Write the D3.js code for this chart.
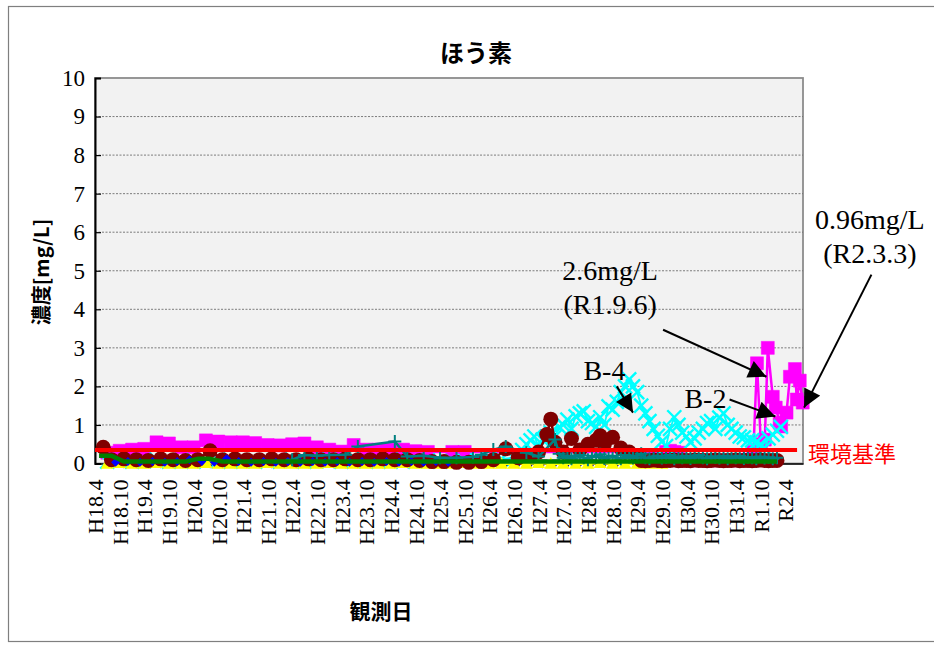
<!DOCTYPE html>
<html><head><meta charset="utf-8">
<script src="https://cdn.jsdelivr.net/npm/d3@7"></script>
<style>body{margin:0;background:#fff;}svg{display:block;}</style>
</head><body>
<svg id="chart" width="934" height="645"></svg>
<script>
// ---------------- DATA ----------------
const titleText = "ほう素";
const yLabelText = "濃度[mg/L]";
const xLabelText = "観測日";
const yTicks = [0,1,2,3,4,5,6,7,8,9,10];
const tickLabels = ["H18.4","H18.10","H19.4","H19.10","H20.4","H20.10","H21.4","H21.10","H22.4","H22.10","H23.4","H23.10","H24.4","H24.10","H25.4","H25.10","H26.4","H26.10","H27.4","H27.10","H28.4","H28.10","H29.4","H29.10","H30.4","H30.10","H31.4","R1.10","R2.4"];
const tickDates = ["2006-04","2006-10","2007-04","2007-10","2008-04","2008-10","2009-04","2009-10","2010-04","2010-10","2011-04","2011-10","2012-04","2012-10","2013-04","2013-10","2014-04","2014-10","2015-04","2015-10","2016-04","2016-10","2017-04","2017-10","2018-04","2018-10","2019-04","2019-10","2020-04"];
const xDomain = ["2006-04-01","2020-08-12"];
const envStandard = 0.35;
const envStandardEnd = "2020-06-29";
const envLabel = "環境基準";

// B-2 (magenta squares): quarterly early, then individual samples
const b2EarlyStart = "2006-07";
const b2EarlyValues = [0.28,0.33,0.36,0.38,0.55,0.52,0.42,0.42,0.6,0.57,0.55,0.55,0.53,0.48,0.47,0.5,0.52,0.42,0.36,0.31,0.48,0.36,0.36,0.36,0.36,0.32,0.3,null,0.3,0.3];
const b2Late = [["2017-11-01",0.3],["2017-12-01",0.33],["2018-01-01",0.3],["2018-02-01",0.28],["2018-04-01",0.08],["2018-07-01",0.08],["2018-10-01",0.08],["2019-01-01",0.08],["2019-04-01",0.08],["2019-07-01",0.1],["2019-08-10",0.3],["2019-09-06",2.6],["2019-10-05",0.5],["2019-11-03",0.62],["2019-11-25",3.0],["2020-01-01",1.73],["2020-01-23",1.45],["2020-02-21",1.06],["2020-03-03",0.96],["2020-04-12",1.32],["2020-05-07",2.25],["2020-06-13",2.45],["2020-06-27",1.66],["2020-07-19",2.15],["2020-08-10",1.58]];

// B-4 (cyan x): quarterly early, monthly later
const b4EarlyStart = "2006-07";
const b4EarlyValues = [0.05,0.08,0.05,0.06,0.1,0.05,0.08,0.05,0.06,0.1,0.05,0.08,0.06,0.05,0.1,0.08,0.05,0.06,0.1,0.05,0.08,0.06,0.05,0.1,0.05,0.06,0.08,0.05,0.06,0.05,0.08,0.1,0.12];
const b4LateStart = "2014-10";
const b4LateValues = [0.15,0.25,0.35,0.5,0.6,0.7,0.45,0.62,0.62,0.8,0.7,0.95,1.0,1.14,0.9,1.22,1.3,1.35,1.1,1.05,0.95,1.2,1.0,1.48,1.4,1.6,1.85,2.0,2.18,2.0,1.85,1.5,1.3,1.1,0.9,0.72,0.57,0.45,0.9,1.2,1.0,0.8,0.7,0.55,0.65,0.8,0.9,1.05,1.1,0.9,1.19,1.3,1.0,0.9,0.8,0.7,0.68,0.6,0.6,0.55,0.5,0.4,0.65,0.75,0.85,0.95];

// dark red circles
const wellRedPoints = [["2006-06",0.42],["2006-08",0.1],["2006-11",0.12],["2007-02",0.1],["2007-05",0.08],["2007-08",0.12],["2007-11",0.1],["2008-02",0.08],["2008-05",0.1],["2008-08",0.33],["2008-11",0.1],["2009-02",0.12],["2009-05",0.1],["2009-08",0.1],["2009-11",0.12],["2010-02",0.1],["2010-05",0.1],["2010-08",0.12],["2010-11",0.1],["2011-02",0.1],["2011-05",0.12],["2011-08",0.1],["2011-11",0.1],["2012-02",0.12],["2012-05",0.1],["2012-08",0.1],["2012-11",0.08],["2013-02",0.05],["2013-05",0.05],["2013-08",0.03],["2013-11",0.03],["2014-02",0.05],["2014-05",0.1],["2014-08",0.38],["2014-11",0.15],["2015-02",0.2],["2015-04",0.3],["2015-06",0.75],["2015-07",1.15],["2015-08",0.55],["2015-10",0.3],["2015-12",0.65],["2016-02",0.35],["2016-04",0.5],["2016-06",0.6],["2016-07",0.72],["2016-08",0.5],["2016-10",0.68],["2016-12",0.4],["2017-02",0.3],["2017-04",0.2]];
const wellRedLateStart = "2017-05";
const wellRedLateValues = [0.08,0.07,0.08,0.09,0.08,0.07,0.08,0.08,0.09,0.07,0.08,0.08,0.07,0.09,0.08,0.08,0.07,0.08,0.09,0.08,0.07,0.08,0.08,0.09,0.07,0.08,0.08,0.07,0.08,0.09,0.08,0.07,0.08,0.08];

// teal plus markers
const tealPoints = [["2010-04",0.1],["2010-07",0.22],["2010-10",0.2],["2011-01",0.22],["2011-05",0.23],["2011-08",0.44],["2012-05",0.57],["2012-08",0.18],["2012-12",0.2],["2013-04",0.15],["2013-08",0.15],["2013-12",0.17],["2014-02",0.23],["2014-05",0.36],["2014-08",0.44],["2015-01",0.28],["2015-04",0.18],["2015-08",0.62],["2015-09",0.25]];
const tealLateStart = "2015-10";
const tealLateValues = [0.15,0.2,0.12,0.18,0.22,0.15,0.1,0.2,0.16,0.24,0.13,0.18,0.2,0.15,0.12,0.22,0.17,0.14,0.2,0.25,0.15,0.12,0.18,0.2,0.14,0.16,0.22,0.12,0.18,0.15,0.2,0.13,0.17,0.22,0.15,0.12,0.19,0.16,0.14,0.2,0.12,0.18,0.15,0.2,0.13,0.17,0.15,0.12,0.18,0.14,0.16,0.12,0.15];

// green line
const greenPoints = [["2006-05",0.2],["2006-08",0.2]];
const greenStart = "2006-11";
const greenValues = [0.05,0.05,0.05,0.05,0.05,0.05,0.12,0.12,0.05,0.05,0.05,0.05,0.05,0.05,0.05,0.05,0.05,0.05,0.05,0.05,0.05,0.05,0.05,0.05,0.05,0.05,0.05,0.05,0.05,0.05,0.05,0.05,0.05,0.05,0.05,0.05,0.05,0.05,0.05,0.05,0.05,0.05,0.05,0.05,0.05,0.05,0.05,0.05,0.05,0.05,0.05,0.05,0.05,0.05];

// yellow triangles, navy triangles, blue diamonds (near zero)
const yellowStart = "2006-07";
const yellowValues = [0,0.02,0,0,0.02,0,0,0,0.02,0,0,0,0,0.02,0,0,0,0,0.02,0,0,0,0,0,0.02,0,0,0,0,0.02,0,0,0,0,0,0.02,0,0,0,0,0.02,0,0,0,0,0];
const navyStart = "2006-08";
const navyValues = [0,0,0,0,0,0,0,0,0,0,0,0,0,0,0,0,0,0,0,0,0,0,0,0,0,0,0,0,0,0,0,0,0,0,0,0,0,0,0,0,0,0];
const blueStart = "2006-09";
const blueValues = [0.03,0.05,0.03,0.05,0.03,0.05,0.1,0.05,0.03,0.12,0.05,0.03,0.05,0.03,0.05,0.03,0.05,0.03,0.05,0.03,0.05,0.03,0.05,0.03,0.05,0.03,0.05,0.03];

// annotations: text anchor (date, value) and arrow (from -> to)
const annotations = [
  {lines:["2.6mg/L","(R1.9.6)"], at:["2016-09-12",4.75], lh:34, from:["2017-10-10",3.47], to:["2019-11-15",2.25]},
  {lines:["0.96mg/L","(R2.3.3)"], at:["2021-12-20",6.08], lh:34, from:["2022-01-01",4.9], to:["2020-08-20",1.45]},
  {lines:["B-4"], at:["2016-08-01",2.16], lh:0, from:["2016-11-01",2.0], to:["2017-03-01",1.32]},
  {lines:["B-2"], at:["2018-08-20",1.44], lh:0, from:["2019-02-15",1.66], to:["2020-01-20",1.22]}
];

// ---------------- DRAW ----------------
(function(){
const serif = "'Liberation Serif','Times New Roman',serif";
const jp = "'Noto Sans CJK JP','Noto Sans',sans-serif";
const pDay = d3.timeParse("%Y-%m-%d"), pMon = d3.timeParse("%Y-%m");
const parse = s => s.length > 7 ? pDay(s) : pMon(s);
const regular = (start, step, vals) => vals.map((v,i)=> v==null?null:{date:d3.timeMonth.offset(parse(start), i*step), value:v}).filter(Boolean);
const explicit = arr => arr.map(([d,v])=>({date:parse(d), value:v}));

const svg = d3.select("#chart");
const pL=95, pR=803, pT=78, pB=463.5;
const x = d3.scaleTime().domain(xDomain.map(parse)).range([pL,pR]);
const y = d3.scaleLinear().domain([0,10]).range([pB,pT]);

svg.append("rect").attr("x",8.5).attr("y",6.5).attr("width",940).attr("height",635)
  .attr("fill","#fff").attr("stroke","#7f7f7f").attr("stroke-width",1.2);

svg.append("rect").attr("x",pL).attr("y",pT).attr("width",pR-pL).attr("height",pB-pT)
  .attr("fill","#f2f2f2").attr("stroke","#8c8c8c").attr("stroke-width",1.8);

svg.append("g").selectAll("line").data(yTicks.filter(t=>t>0&&t<10)).join("line")
  .attr("x1",pL).attr("x2",pR).attr("y1",d=>y(d)).attr("y2",d=>y(d))
  .attr("stroke","#6e6e6e").attr("stroke-width",0.9).attr("stroke-dasharray","2,1.5");

const yAxis = d3.axisLeft(y).tickValues(yTicks).tickSize(-6).tickPadding(10).tickFormat(d3.format("d"));
const gy = svg.append("g").attr("transform",`translate(${pL},0)`).call(yAxis);
gy.select(".domain").attr("stroke","#000").attr("stroke-width",2);
gy.selectAll(".tick line").attr("stroke","#000").attr("stroke-width",1.2);
gy.selectAll("text").attr("font-family",serif).attr("font-size",23).attr("fill","#000").attr("x",-10);

const xt = tickDates.map(parse);
const xAxis = d3.axisBottom(x).tickValues(xt).tickSize(0).tickFormat((d,i)=>tickLabels[i]);
const gx = svg.append("g").attr("transform",`translate(0,${pB})`).call(xAxis);
gx.select(".domain").attr("stroke","#000").attr("stroke-width",1.5);
gx.selectAll("text").attr("font-family",serif).attr("font-size",22).attr("fill","#000")
  .attr("text-anchor","end").attr("transform","translate(0,16) rotate(-90)").attr("x",0).attr("y",0).attr("dy","0.35em");

const line = d3.line().x(d=>x(d.date)).y(d=>y(d.value));
function drawLine(data,color,w){
  svg.append("path").datum(data).attr("d",line).attr("fill","none").attr("stroke",color).attr("stroke-width",w).attr("stroke-linejoin","round");
}
function drawMarkers(data,pathFn,attrs){
  const g = svg.append("g");
  const sel = g.selectAll("path").data(data).join("path")
    .attr("transform",d=>`translate(${x(d.date)},${y(d.value)})`).attr("d",pathFn);
  for (const k in attrs) sel.attr(k,attrs[k]);
}
const sq = s => `M${-s},${-s}H${s}V${s}H${-s}Z`;
const xs = s => `M${-s},${-s}L${s},${s}M${-s},${s}L${s},${-s}`;
const plus = s => `M${-s},0H${s}M0,${-s}V${s}`;
const triUp = s => `M0,${-s}L${s},${s*0.8}L${-s},${s*0.8}Z`;
const triDown = s => `M0,${s}L${s},${-s*0.8}L${-s},${-s*0.8}Z`;
const diamond = s => `M0,${-s}L${s},0L0,${s}L${-s},0Z`;
const circle = r => `M${-r},0A${r},${r} 0 1,0 ${r},0A${r},${r} 0 1,0 ${-r},0Z`;

const b2 = regular(b2EarlyStart,3,b2EarlyValues).concat(explicit(b2Late));
drawLine(b2,"#ff00ff",2.5);
drawMarkers(b2,()=>sq(6.5),{fill:"#ff00ff",stroke:"#ff00ff","stroke-width":0.5});

const b4 = regular(b4EarlyStart,3,b4EarlyValues).concat(regular(b4LateStart,1,b4LateValues));
drawLine(b4,"#00ffff",1.8);
drawMarkers(b4,()=>xs(7),{fill:"none",stroke:"#00ffff","stroke-width":2.4});

const navy = regular(navyStart,3,navyValues);
drawMarkers(navy,()=>triDown(5),{fill:"#000080"});

const yel = regular(yellowStart,3,yellowValues);
drawLine(yel,"#ffff00",3);
drawMarkers(yel,()=>triUp(6.5),{fill:"#ffff00"});

const red = explicit(wellRedPoints).concat(regular(wellRedLateStart,1,wellRedLateValues));
drawLine(red,"#800000",2.5);
drawMarkers(red,()=>circle(7.5),{fill:"#800000"});

const blue = regular(blueStart,3,blueValues);
drawMarkers(blue,()=>diamond(4.5),{fill:"#0000ff"});

const teal = explicit(tealPoints).concat(regular(tealLateStart,1,tealLateValues));
drawLine(teal,"#008080",2.5);
drawMarkers(teal,()=>plus(6.5),{fill:"none",stroke:"#008080","stroke-width":2});

const green = explicit(greenPoints).concat(regular(greenStart,3,greenValues));
drawLine(green,"#008000",4.5);

svg.append("line").attr("x1",pL).attr("x2",x(parse(envStandardEnd)))
  .attr("y1",y(envStandard)).attr("y2",y(envStandard)).attr("stroke","#ff0000").attr("stroke-width",4);
svg.append("text").attr("x",x(parse(envStandardEnd))+11).attr("y",y(envStandard)+2)
  .attr("dominant-baseline","central").attr("font-family",jp).attr("font-size",22).attr("fill","#ff0000").text(envLabel);

const defs = svg.append("defs");
defs.append("marker").attr("id","ah").attr("viewBox","0 0 10 10").attr("refX",10).attr("refY",5)
  .attr("markerWidth",10).attr("markerHeight",9).attr("markerUnits","strokeWidth").attr("orient","auto")
  .append("path").attr("d","M0,0L10,5L0,10Z").attr("fill","#000");
annotations.forEach(a=>{
  const tx = x(parse(a.at[0])), ty = y(a.at[1]);
  a.lines.forEach((t,i)=>{
    svg.append("text").attr("x",tx).attr("y",ty+i*a.lh).attr("text-anchor","middle")
      .attr("font-family",serif).attr("font-size",28).attr("fill","#000").text(t);
  });
  svg.append("line").attr("x1",x(parse(a.from[0]))).attr("y1",y(a.from[1]))
    .attr("x2",x(parse(a.to[0]))).attr("y2",y(a.to[1]))
    .attr("stroke","#000").attr("stroke-width",2).attr("marker-end","url(#ah)");
});

svg.append("text").attr("x",476).attr("y",51).attr("text-anchor","middle").attr("dominant-baseline","central")
  .attr("font-family",jp).attr("font-weight","bold").attr("font-size",24).attr("fill","#000").text(titleText);
svg.append("text").attr("transform","translate(40,272) rotate(-90)").attr("text-anchor","middle").attr("dominant-baseline","central")
  .attr("font-family",jp).attr("font-weight","bold").attr("font-size",20).attr("fill","#000").text(yLabelText);
svg.append("text").attr("x",381).attr("y",610).attr("text-anchor","middle").attr("dominant-baseline","central")
  .attr("font-family",jp).attr("font-weight","bold").attr("font-size",21).attr("fill","#000").text(xLabelText);
})();
</script>
</body></html>
